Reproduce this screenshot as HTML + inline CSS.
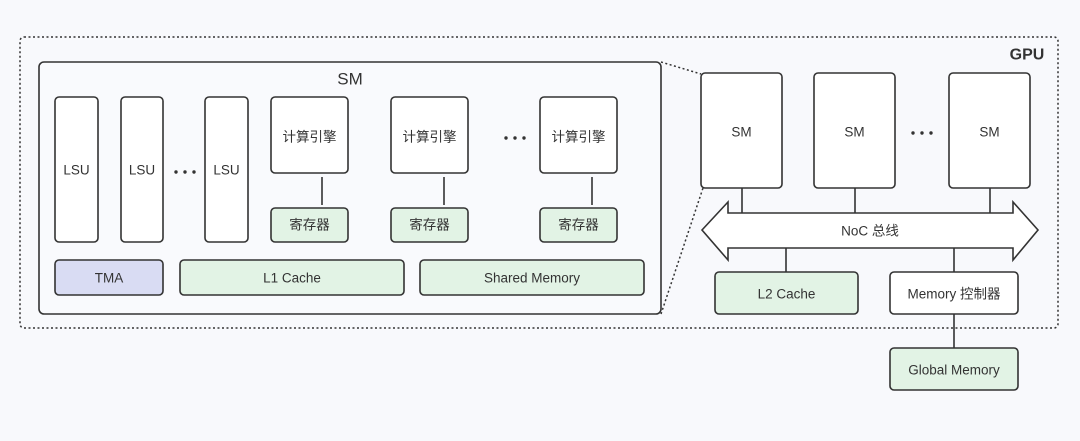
<!DOCTYPE html>
<html><head><meta charset="utf-8"><style>
html,body{margin:0;padding:0;background:#f8f9fc;}
svg{display:block;}
text{font-family:"Liberation Sans","Noto Sans CJK SC",sans-serif;fill:#333;text-anchor:middle;dominant-baseline:central;font-size:13.5px;}
.b{fill:#fff;stroke:#333;stroke-width:1.6;}
.g{fill:#e2f3e5;stroke:#333;stroke-width:1.6;}
.l{stroke:#333;stroke-width:1.6;}
</style></head><body>
<svg width="1080" height="441" viewBox="0 0 1080 441">
<defs><g id="d"><circle cx="-9" cy="0" r="1.7" fill="#333"/><circle cx="0" cy="0" r="1.7" fill="#333"/><circle cx="9" cy="0" r="1.7" fill="#333"/></g></defs>
<rect width="1080" height="441" fill="#f8f9fc"/>
<rect x="20" y="37" width="1038" height="291" rx="4" fill="none" stroke="#333" stroke-width="1.5" stroke-dasharray="2,2.5"/>
<text x="1027" y="55" style="font-size:16px;font-weight:bold">GPU</text>
<line x1="661" y1="62" x2="701" y2="74" stroke="#333" stroke-width="1.5" stroke-dasharray="2,2.5"/>
<line x1="661" y1="314" x2="703" y2="188" stroke="#333" stroke-width="1.5" stroke-dasharray="2,2.5"/>
<rect x="39" y="62" width="622" height="252" rx="5" class="b" style="fill:#f9fafd"/>
<text x="350" y="79" style="font-size:17px">SM</text>
<rect x="55" y="97" width="43" height="145" rx="4" class="b"/><text x="76.5" y="170">LSU</text>
<rect x="121" y="97" width="42" height="145" rx="4" class="b"/><text x="142" y="170">LSU</text>
<rect x="205" y="97" width="43" height="145" rx="4" class="b"/><text x="226.5" y="170">LSU</text>
<use href="#d" x="185" y="172"/>
<rect x="271" y="97" width="77" height="76" rx="4" class="b"/><text x="309.5" y="137">计算引擎</text>
<rect x="391" y="97" width="77" height="76" rx="4" class="b"/><text x="429.5" y="137">计算引擎</text>
<rect x="540" y="97" width="77" height="76" rx="4" class="b"/><text x="578.5" y="137">计算引擎</text>
<use href="#d" x="515" y="138"/>
<line x1="322" y1="177" x2="322" y2="205" class="l"/>
<line x1="444" y1="177" x2="444" y2="205" class="l"/>
<line x1="592" y1="177" x2="592" y2="205" class="l"/>
<rect x="271" y="208" width="77" height="34" rx="4" class="g"/><text x="309.5" y="225">寄存器</text>
<rect x="391" y="208" width="77" height="34" rx="4" class="g"/><text x="429.5" y="225">寄存器</text>
<rect x="540" y="208" width="77" height="34" rx="4" class="g"/><text x="578.5" y="225">寄存器</text>
<rect x="55" y="260" width="108" height="35" rx="4" class="b" style="fill:#d9dcf3"/><text x="109" y="278">TMA</text>
<rect x="180" y="260" width="224" height="35" rx="4" class="g"/><text x="292" y="278">L1 Cache</text>
<rect x="420" y="260" width="224" height="35" rx="4" class="g"/><text x="532" y="278">Shared Memory</text>
<rect x="701" y="73" width="81" height="115" rx="4" class="b"/><text x="741.5" y="132">SM</text>
<rect x="814" y="73" width="81" height="115" rx="4" class="b"/><text x="854.5" y="132">SM</text>
<rect x="949" y="73" width="81" height="115" rx="4" class="b"/><text x="989.5" y="132">SM</text>
<use href="#d" x="922" y="133"/>
<line x1="742" y1="188" x2="742" y2="213" class="l"/>
<line x1="855" y1="188" x2="855" y2="213" class="l"/>
<line x1="990" y1="188" x2="990" y2="213" class="l"/>
<polygon points="702,230 728,202 728,213 1013,213 1013,202 1038,230 1013,260 1013,248 728,248 728,260" class="b"/>
<text x="870" y="231">NoC 总线</text>
<line x1="786" y1="248" x2="786" y2="272" class="l"/>
<line x1="954" y1="248" x2="954" y2="272" class="l"/>
<line x1="954" y1="314" x2="954" y2="348" class="l"/>
<rect x="715" y="272" width="143" height="42" rx="4" class="g"/><text x="786.5" y="294">L2 Cache</text>
<rect x="890" y="272" width="128" height="42" rx="4" class="b"/><text x="954" y="294">Memory 控制器</text>
<rect x="890" y="348" width="128" height="42" rx="4" class="g"/><text x="954" y="370">Global Memory</text>
</svg>
</body></html>
